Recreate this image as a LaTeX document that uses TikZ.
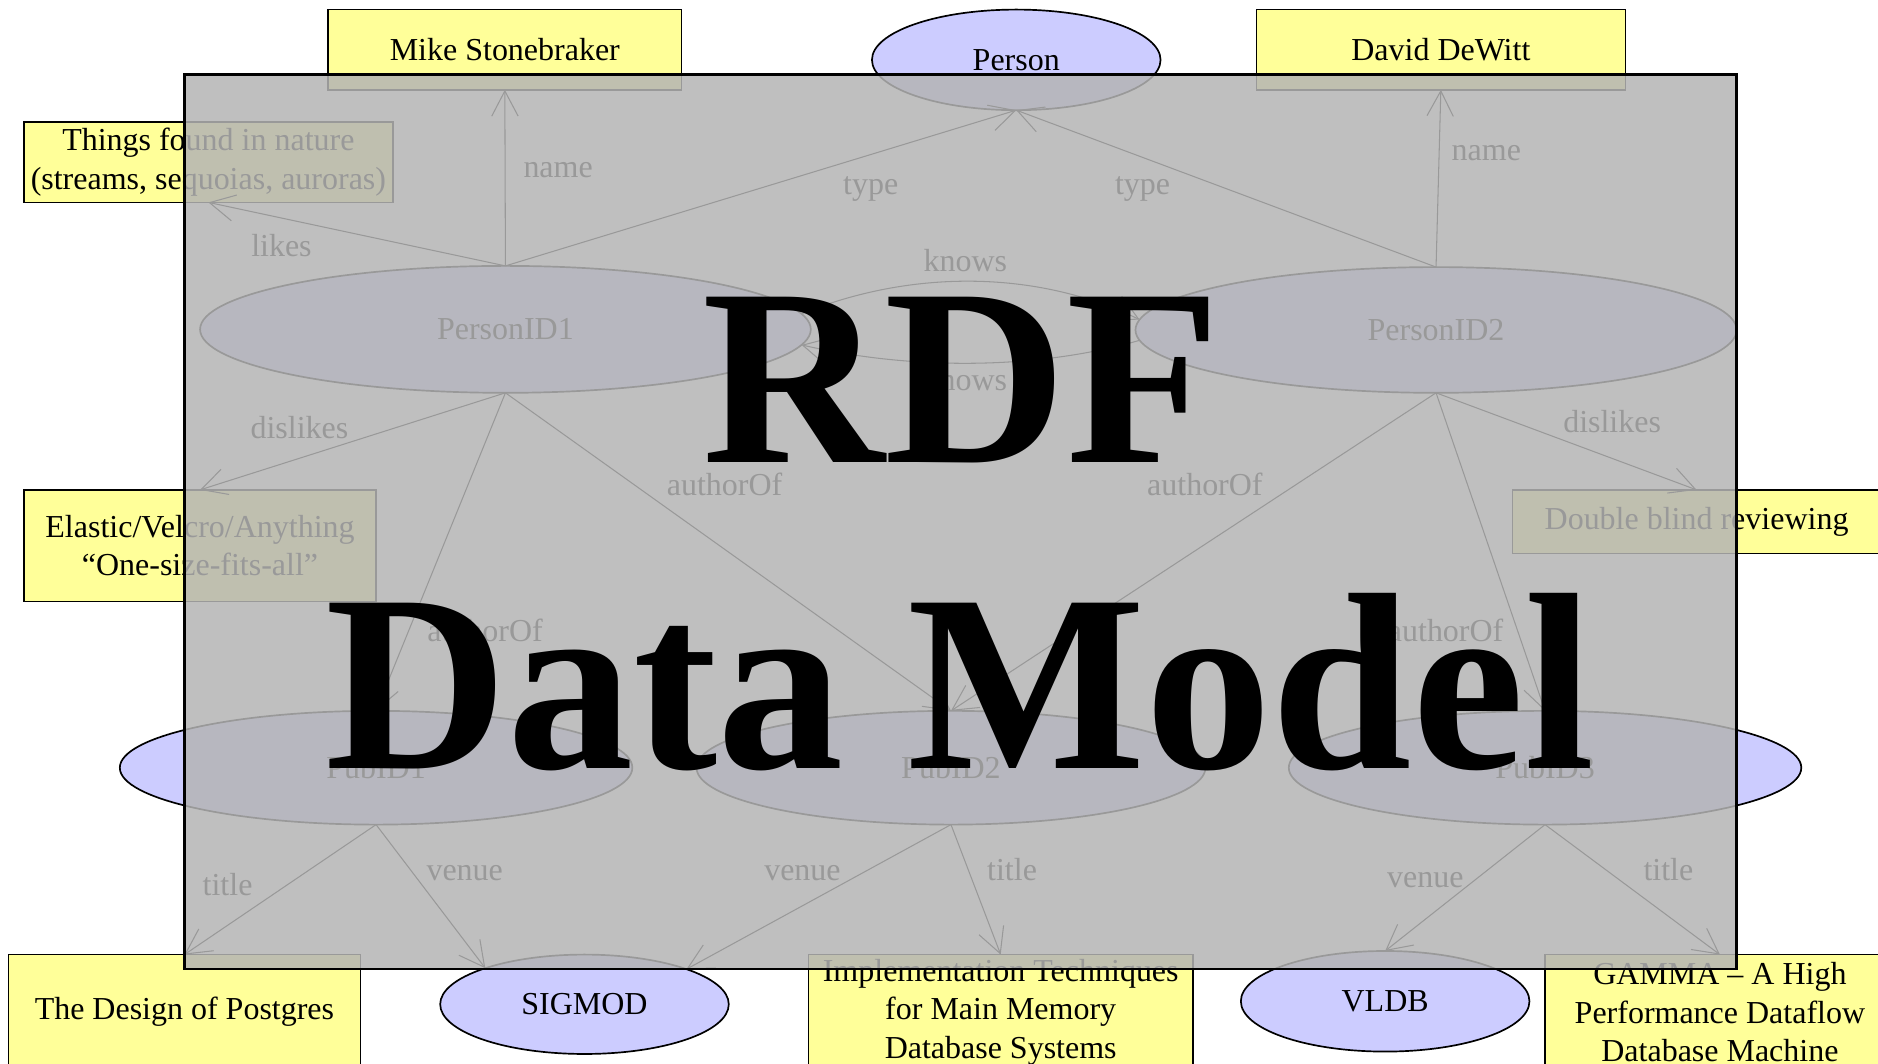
\documentclass[tikz,border=0pt]{standalone}
\usepackage{fontspec}
\setmainfont{Liberation Serif}
\usetikzlibrary{arrows.meta,shapes.geometric}
\definecolor{noteyellow}{RGB}{255,255,153}
\definecolor{classblue}{RGB}{204,204,255}
\definecolor{veilgray}{RGB}{180,180,180}
\begin{document}
\begin{tikzpicture}[x=0.02cm,y=-0.02cm,
  txt/.style={font=\fontsize{15.2}{18.2}\selectfont, align=center, inner sep=0pt, outer sep=0pt},
  notebox/.style={txt, rectangle, draw=black, line width=0.7pt, fill=noteyellow},
  oval/.style={txt, ellipse, draw=black, line width=0.8pt, fill=classblue},
  edgelbl/.style={txt, anchor=base},
  arr/.style={line width=0.5pt, -{Straight Barb[length=0.42cm, width=0.44cm, line width=0.5pt]}},
  veil/.style={draw=black, line width=1.2pt, fill=veilgray, fill opacity=0.85, draw opacity=1},
  headline/.style={font=\fontsize{120}{144}\selectfont\bfseries, inner sep=0pt, anchor=base}]

\useasboundingbox (0,0) rectangle (1568,888);
\clip (0,0) rectangle (1568,888);
\fill[white] (0,0) rectangle (1568,888);

% literal values
\node[notebox, minimum width=5.9cm, minimum height=1.34cm] (mike) at (421.5,41.5) {Mike Stonebraker};
\node[notebox, minimum width=6.16cm, minimum height=1.34cm] (david) at (1203,41.5) {David DeWitt};
\node[notebox, minimum width=6.16cm, minimum height=1.34cm] (things) at (174,135.5)
  {Things found in nature\\(streams, sequoias, auroras)};
\node[notebox, minimum width=5.88cm, minimum height=1.86cm] (elastic) at (167,455.5)
  {Elastic/Velcro/Anything\\“One-size-fits-all”};
\node[notebox, minimum width=6.14cm, minimum height=1.06cm] (double) at (1416.5,435.5) {Double blind reviewing};
\node[notebox, minimum width=5.88cm, minimum height=1.92cm] (postgres) at (154,845) {The Design of Postgres};
\node[notebox, minimum width=6.42cm, minimum height=1.92cm] (impl) at (835.5,845)
  {Implementation Techniques\\for Main Memory\\Database Systems};
\node[notebox, minimum width=5.84cm, minimum height=1.92cm] (gamma) at (1436,845)
  {GAMMA – A High\\Performance Dataflow\\Database Machine};

% resources and classes
\node[oval, minimum width=4.82cm, minimum height=1.68cm] (person) at (848.5,50) {\raisebox{-0.15em}{Person}};
\node[oval, minimum width=10.2cm, minimum height=2.12cm] (p1) at (422,275) {PersonID1};
\node[oval, minimum width=10.04cm, minimum height=2.1cm] (p2) at (1199,275.5) {PersonID2};
\node[oval, minimum width=8.56cm, minimum height=1.9cm] (pub1) at (314,641) {PubID1};
\node[oval, minimum width=8.5cm, minimum height=1.9cm] (pub2) at (794,641) {PubID2};
\node[oval, minimum width=8.56cm, minimum height=1.9cm] (pub3) at (1290,641) {PubID3};
\node[oval, minimum width=4.82cm, minimum height=1.66cm] (sigmod) at (488,838.5) {SIGMOD};
\node[oval, minimum width=4.82cm, minimum height=1.68cm] (vldb) at (1156.5,836) {VLDB};

% properties
\draw[arr] (p1.north) -- (mike.south);
\draw[arr] (p1.north) -- (things.south);
\draw[arr] (p1.north) -- (person.south);
\draw[arr] (p2.north) -- (person.south);
\draw[arr] (p2.north) -- (david.south);
\draw[arr] (p1.3) .. controls (760,225) and (865,225) .. (p2.178);
\draw[arr] (p2.182) .. controls (865,309) and (760,309) .. (p1.357);
\draw[arr] (p1.south) -- (elastic.north);
\draw[arr] (p1.south) -- (pub1.north);
\draw[arr] (p1.south) -- (pub2.north);
\draw[arr] (p2.south) -- (pub2.north);
\draw[arr] (p2.south) -- (pub3.north);
\draw[arr] (p2.south) -- (double.north);
\draw[arr] (pub1.south) -- (postgres.north);
\draw[arr] (pub1.south) -- (sigmod.160);
\draw[arr] (pub2.south) -- (sigmod.19);
\draw[arr] (pub2.south) -- (impl.north);
\draw[arr] (pub3.south) -- (vldb.north);
\draw[arr] (pub3.south) -- (gamma.north);

% property labels
\node[edgelbl] (l-name1) at (466,148) {name};
\node[edgelbl] (l-type1) at (727,162) {type};
\node[edgelbl] (l-likes) at (235,214) {likes};
\node[edgelbl] (l-type2) at (954,162) {type};
\node[edgelbl] (l-name2) at (1241,134) {name};
\node[edgelbl] (l-knows1) at (806,227) {knows};
\node[edgelbl] (l-knows2) at (806,326) {knows};
\node[edgelbl] (l-dislikes1) at (250,366) {dislikes};
\node[edgelbl] (l-dislikes2) at (1346,361) {dislikes};
\node[edgelbl] (l-author12) at (605,414) {authorOf};
\node[edgelbl] (l-author22) at (1006,414) {authorOf};
\node[edgelbl] (l-author11) at (405,536) {authorOf};
\node[edgelbl] (l-author23) at (1207,536) {authorOf};
\node[edgelbl] (l-title1) at (190,748) {title};
\node[edgelbl] (l-venue1) at (388,735) {venue};
\node[edgelbl] (l-venue2) at (670,735) {venue};
\node[edgelbl] (l-title2) at (845,735) {title};
\node[edgelbl] (l-venue3) at (1190,741) {venue};
\node[edgelbl] (l-title3) at (1393,735) {title};

% translucent panel with the title
\path[veil] (154,62) rectangle (1450,809);
\node[headline] (rdf) at (803,386) {RDF};
\node[headline] (datamodel) at (801.5,642) {Data Model};
\end{tikzpicture}
\end{document}
